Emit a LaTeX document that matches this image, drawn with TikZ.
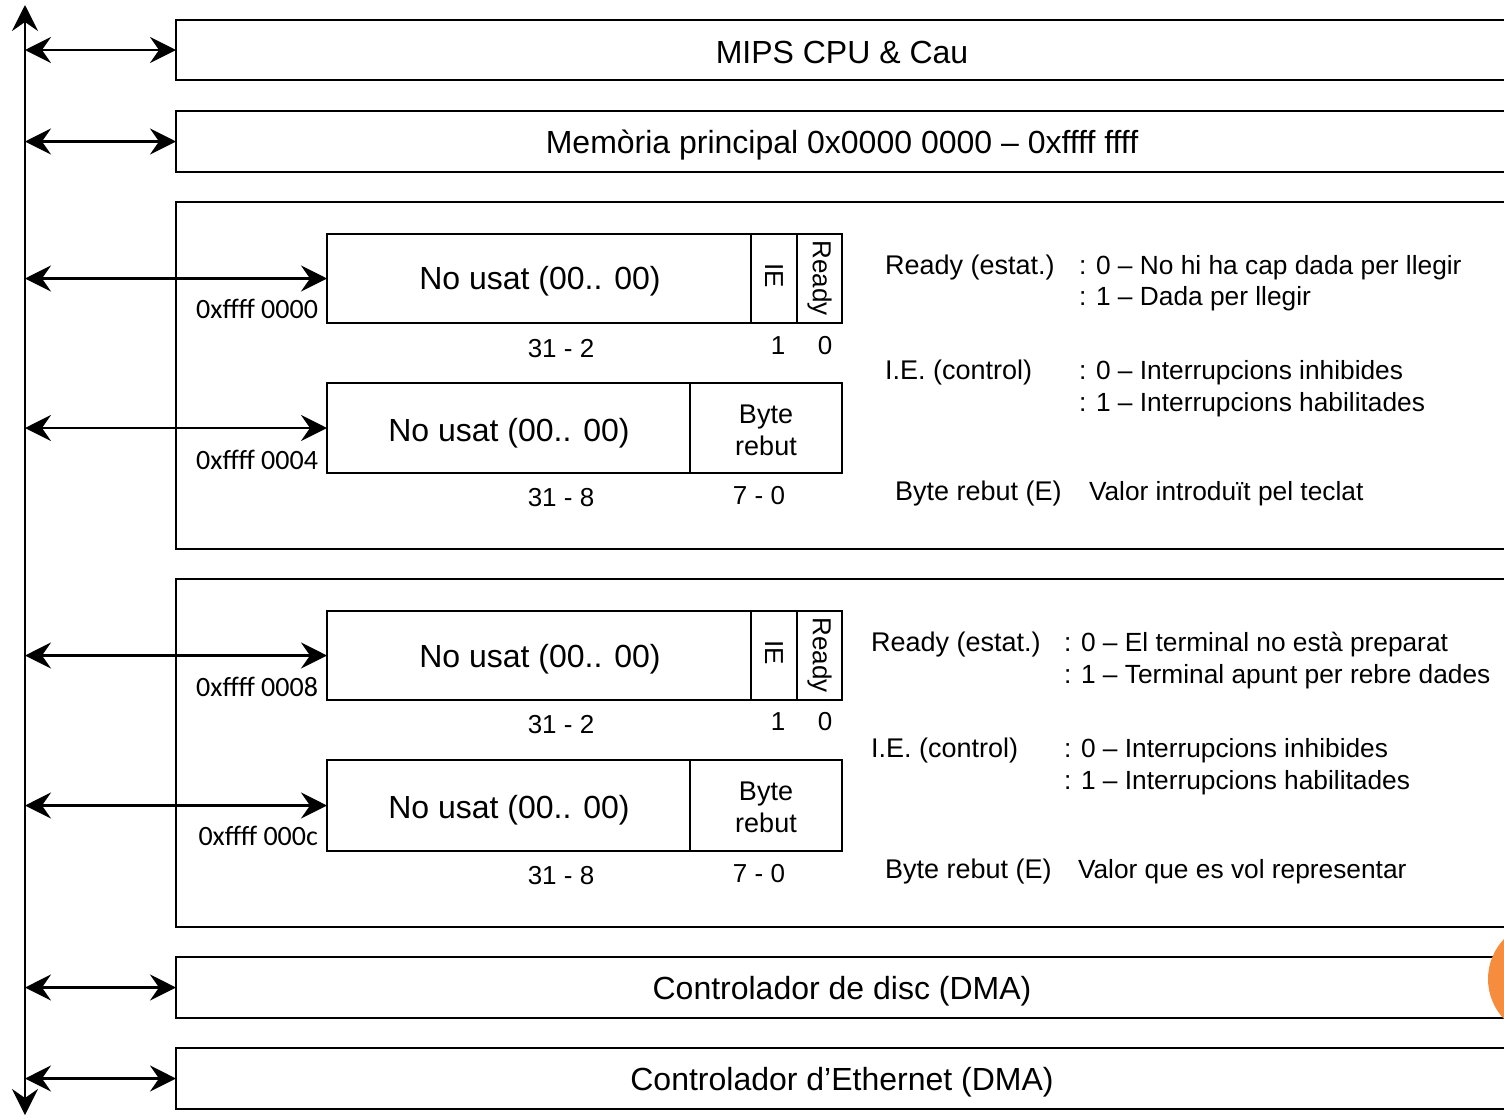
\documentclass[tikz,border=0pt]{standalone}
\usepackage{fontspec}
\setmainfont{Liberation Sans}
\newfontfamily\addrfont{Carlito}
\usetikzlibrary{arrows.meta}
\definecolor{dotorange}{RGB}{246,140,62}
\begin{document}
\begin{tikzpicture}[x=1pt,y=-1pt,
  >={Stealth[length=26pt,width=26pt,inset=9pt]},
  every node/.style={inner sep=0pt,outer sep=0pt},
  lw/.style={line width=2.6pt},
  bigbox/.style={lw,draw,rectangle,anchor=north west},
  regbox/.style={lw,draw,rectangle,anchor=north west},
  busarrow/.style={lw,<->},
  titletext/.style={font=\fontsize{32}{37}\selectfont,anchor=base},
  regtext/.style={font=\fontsize{32}{37}\selectfont,anchor=base},
  bittext/.style={font=\fontsize{26}{30}\selectfont,anchor=base},
  desctext/.style={font=\fontsize{27}{31}\selectfont,anchor=base west},
  valtext/.style={font=\fontsize{26.3}{31}\selectfont,anchor=base west},
  addrtext/.style={font=\addrfont\fontsize{28}{32}\selectfont,anchor=base east},
  celltext/.style={font=\fontsize{27}{32}\selectfont,align=center},
  vtext/.style={font=\fontsize{26}{30}\selectfont,rotate=-90}
]
\useasboundingbox (0,0) rectangle (1504,1119);
\begin{scope}
\clip (0,0) rectangle (1504,1119);

% system bus
\coordinate (bustop) at (25,5);
\coordinate (busbot) at (25,1115);
\draw[busarrow] (busbot) -- (bustop);

% top-level blocks
\node[bigbox,minimum width=1360pt,minimum height=60pt] (cpu) at (176,20) {};
\node[bigbox,minimum width=1360pt,minimum height=61pt] (mem) at (176,111) {};
\node[bigbox,minimum width=1360pt,minimum height=347pt] (kbd) at (176,202) {};
\node[bigbox,minimum width=1360pt,minimum height=348pt] (scr) at (176,579) {};
\node[bigbox,minimum width=1360pt,minimum height=61pt] (disc) at (176,957) {};
\node[bigbox,minimum width=1360pt,minimum height=61pt] (eth) at (176,1048) {};

\node[titletext] (cputxt) at (842,63) {MIPS CPU \& Cau};
\node[titletext] (memtxt) at (842,153) {Memòria principal 0x0000 0000 – 0xffff ffff};
\node[titletext] (disctxt) at (842,999) {Controlador de disc (DMA)};
\node[titletext] (ethtxt) at (842,1090) {Controlador d’Ethernet (DMA)};

\draw[busarrow] (bustop |- cpu.west) -- (cpu.west);
\draw[busarrow] (bustop |- mem.west) -- (mem.west);
\draw[busarrow] (bustop |- disc.west) -- (disc.west);
\draw[busarrow] (bustop |- eth.west) -- (eth.west);

% ---- keyboard controller ----
\node[regbox,minimum width=515pt,minimum height=89pt] (kctl) at (327,234) {};
\draw[lw] (751,234) -- (751,323) (797,234) -- (797,323);
\node[regtext] (kctlt) at (540,289) {No usat (00.. 00)};
\node[vtext] (kie) at (774,276) {IE};
\node[vtext] (krdy) at (819.5,278) {Ready};
\node[bittext] (kb1) at (561,357) {31 - 2};
\node[bittext] (kb2) at (778,354) {1};
\node[bittext] (kb3) at (825,354) {0};
\node[addrtext] (ka1) at (318,318) {0xffff 0000};

\node[regbox,minimum width=515pt,minimum height=90pt] (kdat) at (327,383) {};
\draw[lw] (690,383) -- (690,473);
\node[regtext] (kdatt) at (509,441) {No usat (00.. 00)};
\node[celltext] (kbyte) at (766,430) {Byte\\rebut};
\node[bittext] (kb4) at (561,506) {31 - 8};
\node[bittext] (kb5) at (759,504) {7 - 0};
\node[addrtext] (ka2) at (318,469) {0xffff 0004};

\draw[busarrow] (bustop |- kctl.west) -- (kctl.west);
\draw[busarrow] (bustop |- kdat.west) -- (kdat.west);

\node[desctext] (kd1) at (885,274.5) {Ready (estat.)};
\node[valtext] (kd2) at (1079,274.5) {: 0 – No hi ha cap dada per llegir};
\node[valtext] (kd3) at (1079,305.5) {: 1 – Dada per llegir};
\node[desctext] (kd4) at (885,379.5) {I.E. (control)};
\node[valtext] (kd5) at (1079,379.5) {: 0 – Interrupcions inhibides};
\node[valtext] (kd6) at (1079,411.5) {: 1 – Interrupcions habilitades};
\node[desctext] (kd7) at (895,500.5) {Byte rebut (E)};
\node[valtext] (kd8) at (1089,500.5) {Valor introduït pel teclat};

% ---- screen controller ----
\node[regbox,minimum width=515pt,minimum height=89pt] (sctl) at (327,611) {};
\draw[lw] (751,611) -- (751,700) (797,611) -- (797,700);
\node[regtext] (sctlt) at (540,667) {No usat (00.. 00)};
\node[vtext] (sie) at (774,653) {IE};
\node[vtext] (srdy) at (819.5,655) {Ready};
\node[bittext] (sb1) at (561,733) {31 - 2};
\node[bittext] (sb2) at (778,730) {1};
\node[bittext] (sb3) at (825,730) {0};
\node[addrtext] (sa1) at (318,696) {0xffff 0008};

\node[regbox,minimum width=515pt,minimum height=91pt] (sdat) at (327,760) {};
\draw[lw] (690,760) -- (690,851);
\node[regtext] (sdatt) at (509,818) {No usat (00.. 00)};
\node[celltext] (sbyte) at (766,807) {Byte\\rebut};
\node[bittext] (sb4) at (561,884) {31 - 8};
\node[bittext] (sb5) at (759,882) {7 - 0};
\node[addrtext] (sa2) at (318,845) {0xffff 000c};

\draw[busarrow] (bustop |- sctl.west) -- (sctl.west);
\draw[busarrow] (bustop |- sdat.west) -- (sdat.west);

\node[desctext] (sd1) at (871,651.5) {Ready (estat.)};
\node[valtext] (sd2) at (1064,651.5) {: 0 – El terminal no està preparat};
\node[valtext] (sd3) at (1064,683.5) {: 1 – Terminal apunt per rebre dades};
\node[desctext] (sd4) at (871,757.5) {I.E. (control)};
\node[valtext] (sd5) at (1064,757.5) {: 0 – Interrupcions inhibides};
\node[valtext] (sd6) at (1064,789.5) {: 1 – Interrupcions habilitades};
\node[desctext] (sd7) at (885,878.5) {Byte rebut (E)};
\node[valtext] (sd8) at (1078,878.5) {Valor que es vol representar};

% slide marker
\fill[dotorange] (1546,979) circle (58);
\end{scope}
\end{tikzpicture}
\end{document}
